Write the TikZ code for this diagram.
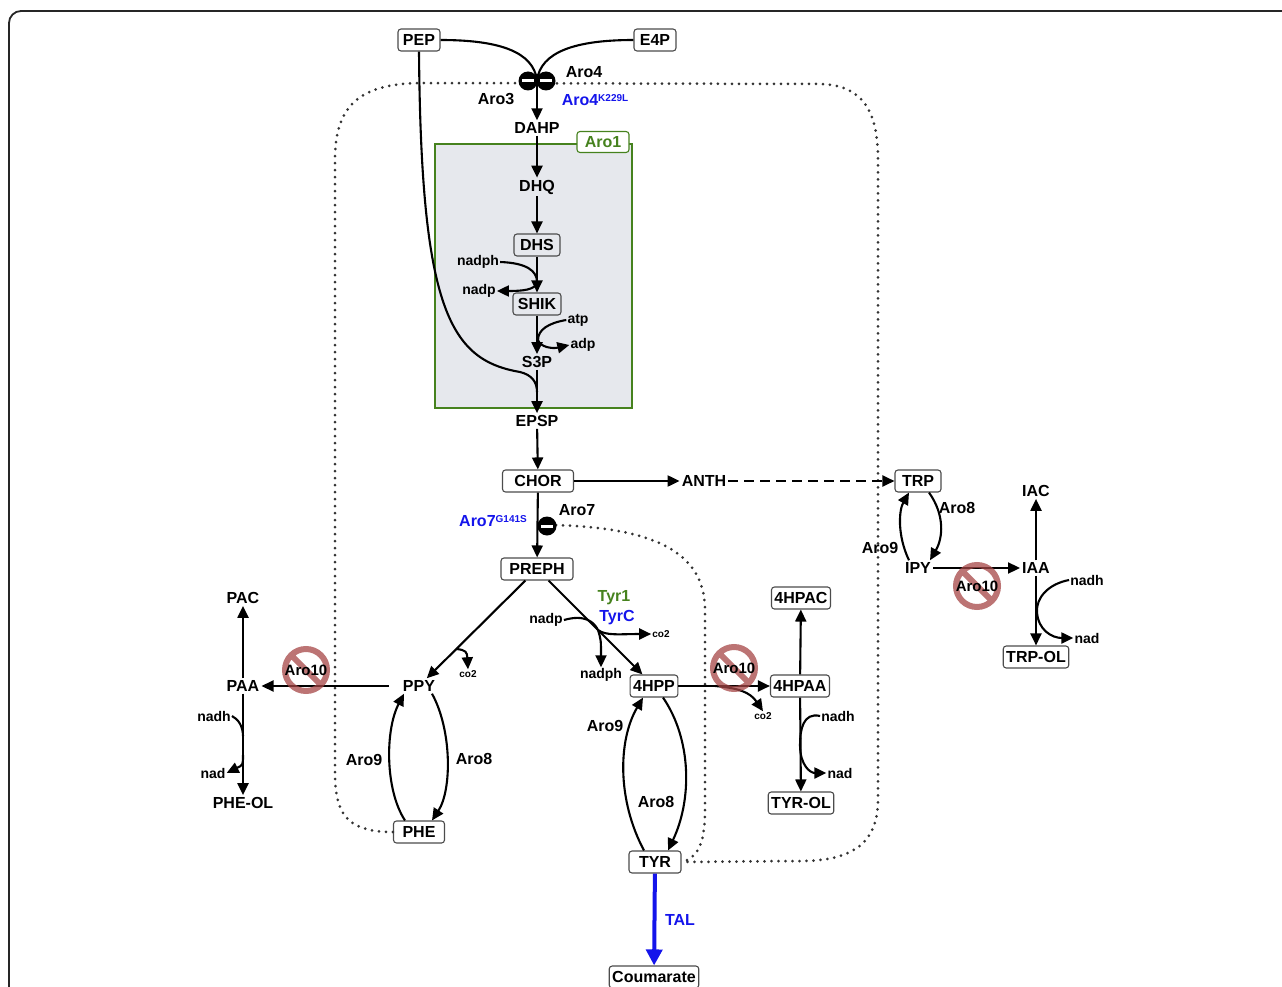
\documentclass[tikz,border=0pt]{standalone}
\usepackage{fontspec}
\setmainfont{Liberation Sans}
\usetikzlibrary{arrows.meta}
\definecolor{tblue}{RGB}{20,20,235}
\definecolor{tgreen}{RGB}{70,130,30}
\definecolor{aroback}{RGB}{230,232,237}
\definecolor{nored}{RGB}{165,70,70}
\tikzset{
  met/.style={font=\fontsize{16}{18}\selectfont\bfseries, inner sep=2pt},
  box/.style={met, draw=black!70, fill=white, rounded corners=3pt, line width=1.1pt,
    minimum height=22pt, inner xsep=3pt},
  side/.style={font=\fontsize{14}{16}\selectfont\bfseries, inner sep=1pt},
  tiny/.style={font=\fontsize{10}{12}\selectfont\bfseries, inner sep=1pt},
  link/.style={line width=2.1pt},
  arr/.style={link, -{Triangle[length=12pt,width=11pt]}},
  inhib/.style={dash pattern=on 0pt off 7pt, line cap=round, line width=3pt, black!80},
}
\begin{document}
\begin{tikzpicture}[x=1pt, y=-1pt]
    \useasboundingbox (0,0) rectangle (1282,987);
    \draw[line width=1.8pt, black!85, rounded corners=12pt] (9,11) rectangle (1320,1030);
    % Aro1 complex
    \draw[fill=aroback, draw=tgreen, line width=1.5pt] (435,144) rectangle (632,408);
    \node[box, draw=tgreen, text=tgreen, minimum width=52pt, minimum height=21pt] (aro1) at (603,142) {Aro1};
    % metabolites
    \node[box, minimum width=42pt] (PEP) at (419,40) {PEP};
    \node[box, minimum width=42pt] (E4P) at (655,40) {E4P};
    \node[met] (DAHP) at (537,128) {DAHP};
    \node[met] (DHQ) at (537,187) {DHQ};
    \node[box, fill=aroback, minimum width=46pt] (DHS) at (537,245) {DHS};
    \node[box, fill=aroback, minimum width=48pt] (SHIK) at (537,304) {SHIK};
    \node[met] (S3P) at (537,362) {S3P};
    \node[met] (EPSP) at (537,421) {EPSP};
    \node[box, minimum width=71pt] (CHOR) at (538,481) {CHOR};
    \node[met] (ANTH) at (704,481) {ANTH};
    \node[box, minimum width=46pt] (TRP) at (918,481) {TRP};
    \node[box, minimum width=72pt] (PREPH) at (537,569) {PREPH};
    \node[met] (PPY) at (419,686) {PPY};
    \node[met] (PAA) at (243,686) {PAA};
    \node[met] (PAC) at (243,598) {PAC};
    \node[met] (PHEOL) at (243,803) {PHE-OL};
    \node[box, minimum width=51pt] (PHE) at (419,832) {PHE};
    \node[box, minimum width=45pt] (hpp) at (654,686) {4HPP};
    \node[box, minimum width=57pt] (hpaa) at (800,686) {4HPAA};
    \node[box, minimum width=58pt] (hpac) at (801,598) {4HPAC};
    \node[box, minimum width=62pt] (TYROL) at (801,803) {TYR-OL};
    \node[box, minimum width=52pt] (TYR) at (655,862) {TYR};
    \node[box, minimum width=88pt] (COUM) at (654,977) {Coumarate};
    \node[met] (IPY) at (918,568) {IPY};
    \node[met] (IAA) at (1036,568) {IAA};
    \node[met] (IAC) at (1036,491) {IAC};
    \node[box, minimum width=64pt] (TRPOL) at (1036,657) {TRP-OL};
    % cofactors
    \node[side] (nadph1) at (478,262) {nadph};
    \node[side] (nadp1) at (479,291) {nadp};
    \node[side] (atp) at (578,320) {atp};
    \node[side] (adp) at (583,345) {adp};
    \node[side] (nadp2) at (546,620) {nadp};
    \node[side] (nadph2) at (601,675) {nadph};
    \node[tiny] (co2a) at (661,634) {co2};
    \node[tiny] (co2b) at (468,674) {co2};
    \node[tiny] (co2c) at (763,716) {co2};
    \node[side] (nadh1) at (214,716) {nadh};
    \node[side] (nad1) at (213,773) {nad};
    \node[side] (nadh2) at (838,716) {nadh};
    \node[side] (nad2) at (840,773) {nad};
    \node[side] (nadh3) at (1087,580) {nadh};
    \node[side] (nad3) at (1087,638) {nad};
    % feedback loops
    \draw[inhib] (PHE.west) .. controls (345,832) and (335,812) .. (335,772) -- (335,160)
        .. controls (335,105) and (360,84) .. (420,83) -- (820,84)
        .. controls (862,85) and (878,110) .. (878,160) -- (878,800)
        .. controls (878,845) and (850,861) .. (800,861) -- (TYR.east);
    \draw[inhib] (556,525) .. controls (640,528) and (705,545) .. (705,610) -- (705,810)
        .. controls (705,845) and (697,858) .. (TYR.east);
    % upper pathway
    \coordinate (ini) at (537,80);
    \draw[link] (PEP.east) .. controls (500,40) and (533,52) .. (ini);
    \draw[link] (E4P.west) .. controls (575,40) and (541,52) .. (ini);
    \draw[arr] (ini) -- (DAHP);
    \draw[arr] (DAHP) -- (DHQ);
    \draw[arr] (DHQ) -- (DHS);
    \draw[arr] (DHS) -- (SHIK);
    \draw[arr] (SHIK) -- (S3P);
    \coordinate (merge) at (537,392);
    \draw[link] (PEP.south) .. controls (421,310) and (450,360) .. (520,372)
        .. controls (532,375) and (537,382) .. (merge);
    \draw[arr] (S3P) -- (EPSP);
    \draw[arr] (EPSP) -- (CHOR);
    \coordinate (j1) at (537,282);
    \draw[link] (nadph1.east) .. controls (527,263) and (537,271) .. (j1);
    \draw[arr] (j1) .. controls (536,290) and (522,291) .. (nadp1.east);
    \coordinate (j2) at (538,340);
    \draw[link] (atp.west) .. controls (548,323) and (538,330) .. (j2);
    \draw[arr] (j2) .. controls (540,347) and (552,349) .. (adp.west);
    % branch point
    \draw[arr] (CHOR) -- (ANTH);
    \draw[link, dash pattern=on 10pt off 6pt, -{Triangle[length=12pt,width=11pt]}] (ANTH) -- (TRP);
    \draw[arr] (CHOR) -- (PREPH);
    \draw[arr] (PREPH) -- coordinate[pos=0.7] (j3) (PPY);
    \draw[arr] (j3) .. controls (466,650) and (467,652) .. (co2b.north);
    \draw[arr] (PREPH) -- (hpp);
    \coordinate (j4) at (598,630);
    \draw[link] (nadp2.east) .. controls (585,614) and (594,622) .. (j4);
    \draw[arr] (j4) .. controls (606,636) and (620,634) .. (co2a.west);
    \draw[arr] (j4) .. controls (601,640) .. (nadph2.north);
    % phenylalanine side
    \draw[arr, shorten <=12pt] (PPY) -- (PAA);
    \draw[arr] (PAA) -- (PAC);
    \draw[arr] (PAA) -- (PHEOL);
    \coordinate (j7) at (243,736);
    \coordinate (j8) at (243,755);
    \draw[link] (nadh1.east) .. controls (238,719) and (243,726) .. (j7);
    \draw[arr] (j8) .. controls (243,765) .. (nad1.east);
    \draw[arr] ([xshift=-14pt]PHE.north) .. controls (385,790) and (385,730) .. ([xshift=-15pt]PPY.south);
    \draw[arr] ([xshift=13pt]PPY.south) .. controls (452,730) and (452,790) .. ([xshift=13pt]PHE.north);
    % tyrosine side
    \draw[arr] (hpp) -- coordinate[pos=0.4] (j5) (hpaa);
    \draw[arr] (j5) .. controls (738,688) and (750,692) .. (co2c.north);
    \draw[arr] (hpaa) -- (hpac);
    \draw[arr] (hpaa) -- (TYROL);
    \coordinate (j6) at (800,745);
    \draw[arr] (nadh2.west) .. controls (803,712) and (800,730) .. (j6)
        .. controls (800,765) and (810,773) .. (nad2.west);
    \draw[arr] ([xshift=-11pt]TYR.north) .. controls (617,800) and (618,740) .. ([xshift=-11pt]hpp.south);
    \draw[arr] ([xshift=9pt]hpp.south) .. controls (692,740) and (692,800) .. ([xshift=13pt]TYR.north);
    \draw[line width=4pt, tblue, -{Triangle[length=16pt,width=16pt]}] (TYR) -- (COUM);
    % tryptophan side
    \draw[arr] ([xshift=11pt]TRP.south) .. controls (945,515) and (943,538) .. ([xshift=12pt]IPY.north);
    \draw[arr] ([xshift=-9pt]IPY.north) .. controls (897,535) and (899,510) .. ([xshift=-9pt]TRP.south);
    \draw[arr] (IPY) -- (IAA);
    \draw[arr] (IAA) -- (IAC);
    \draw[arr] (IAA) -- (TRPOL);
    \coordinate (j9) at (1037,612);
    \draw[arr] (nadh3.west) .. controls (1048,584) and (1036,598) .. (j9)
        .. controls (1038,630) and (1052,638) .. (nad3.west);
    % inhibitions
    \foreach \cx/\cy in {528/81,546/81,547/526} {
        \fill (\cx,\cy) circle (9.5);
        \fill[white] (\cx-6,\cy-1.5) rectangle (\cx+6,\cy+1.5);
    }
    % deleted Aro10
    \foreach \nx/\ny in {306/670,734/668,977/586} {
        \draw[nored, opacity=.75, line width=6pt] (\nx,\ny) circle (21)
            (\nx-15,\ny-15) -- (\nx+15,\ny+15);
        \node[met, font=\fontsize{15}{17}\selectfont\bfseries] at (\nx,\ny) {Aro10};
    }
    % enzymes
    \node[met] (aro3) at (496,99) {Aro3};
    \node[met] (aro4) at (584,72) {Aro4};
    \node[met, text=tblue] (aro4m) at (595,100) {Aro4\raisebox{.55ex}{\fontsize{10}{12}\selectfont K229L}};
    \node[met] (aro7) at (577,510) {Aro7};
    \node[met, text=tblue] (aro7m) at (493,521) {Aro7\raisebox{.55ex}{\fontsize{10}{12}\selectfont G141S}};
    \node[met, text=tgreen] (tyr1) at (614,598) {Tyr1};
    \node[met, text=tblue] (tyrc) at (617,618) {TyrC};
    \node[met, text=tblue] (tal) at (680,920) {TAL};
    \node[met] (aro9a) at (364,760) {Aro9};
    \node[met] (aro8a) at (474,759) {Aro8};
    \node[met] (aro9b) at (605,726) {Aro9};
    \node[met] (aro8b) at (656,802) {Aro8};
    \node[met] (aro9c) at (880,548) {Aro9};
    \node[met] (aro8c) at (957,508) {Aro8};
\end{tikzpicture}
\end{document}
